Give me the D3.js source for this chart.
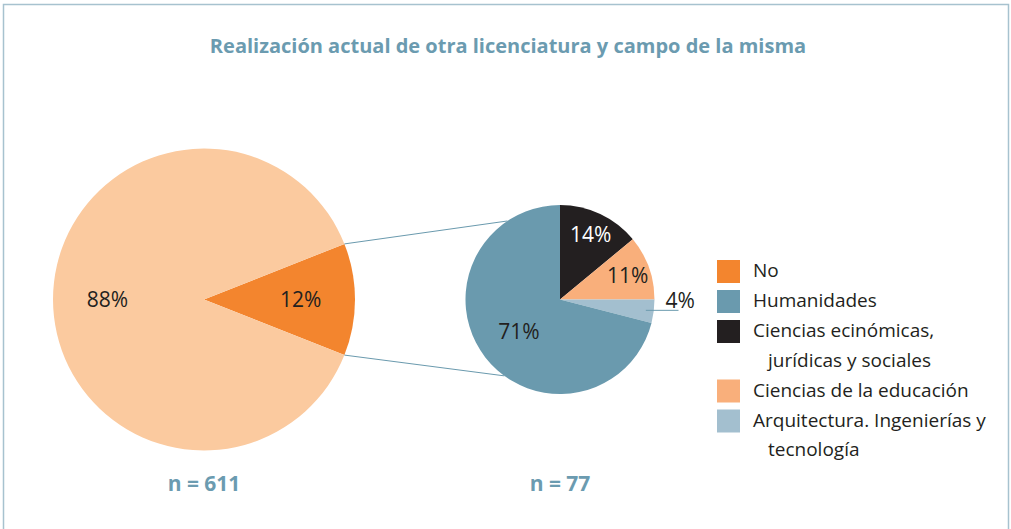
<!doctype html>
<html lang="es">
<head>
<meta charset="utf-8">
<title>Realización actual de otra licenciatura</title>
<style>
  body { margin: 0; background: #fff; }
  svg text { font-family: "Open Sans", sans-serif; }
</style>
</head>
<body>
<script src="https://cdn.jsdelivr.net/npm/d3@7"></script>
<script>

// Data
var mainLabels = ["Sí", "No"];
var mainValues = [88, 12];
var mainN = 611;

var subLabels = ["Ciencias ecinómicas, jurídicas y sociales", "Ciencias de la educación",
                 "Arquitectura. Ingenierías y tecnología", "Humanidades"];
var subValues = [14, 11, 4, 71];
var subN = 77;

var legendLabels = ["No", "Humanidades", "Ciencias ecinómicas,|jurídicas y sociales",
                    "Ciencias de la educación", "Arquitectura. Ingenierías y|tecnología"];

var colors = {
  "Sí": "#fbca9f",
  "No": "#f3852e",
  "Humanidades": "#6a9aae",
  "Ciencias ecinómicas, jurídicas y sociales": "#231f20",
  "Ciencias de la educación": "#f9af7b",
  "Arquitectura. Ingenierías y tecnología": "#a3bfcf"
};
function legendColor(l) { return colors[l.replace("|", " ")]; }

var W = 1011, H = 529;
var svg = d3.select("body").append("svg")
  .attr("width", W)
  .attr("height", H);

// frame
svg.append("path")
  .attr("d", "M3.5," + (H + 2) + "V4.5H1008.5V" + (H + 2))
  .attr("fill", "none")
  .attr("stroke", "#a7c2cf")
  .attr("stroke-width", 1.5);

svg.append("text")
  .attr("x", 508)
  .attr("y", 53)
  .attr("text-anchor", "middle")
  .attr("font-size", "20px")
  .attr("font-weight", "bold")
  .attr("fill", "#6b9bb0")
  .text("Realización actual de otra licenciatura y campo de la misma");

// ---- big pie
var bigC = [204, 299.5], bigR = 151;
var bigPie = d3.pie().sort(null)
  .startAngle(Math.PI / 2 - (mainValues[1] / 100) * Math.PI)   // keep "No" centred on the right
  .endAngle(Math.PI / 2 - (mainValues[1] / 100) * Math.PI + 2 * Math.PI);
// order: No first so it starts at the start angle
var bigData = bigPie([mainValues[1], mainValues[0]]);
var bigNames = [mainLabels[1], mainLabels[0]];
var bigArc = d3.arc().innerRadius(0).outerRadius(bigR);
var bigLab = d3.arc().innerRadius(bigR * 0.64).outerRadius(bigR * 0.64);

var gBig = svg.append("g").attr("transform", "translate(" + bigC + ")");
gBig.selectAll("path")
  .data(bigData)
  .join("path")
  .attr("d", bigArc)
  .attr("fill", function (d, i) { return colors[bigNames[i]]; });

gBig.selectAll("text")
  .data(bigData)
  .join("text")
  .attr("transform", function (d) { return "translate(" + bigLab.centroid(d) + ")"; })
  .attr("dy", "0.36em")
  .attr("text-anchor", "middle")
  .attr("font-size", "21px")
  .attr("fill", "#231f20")
  .text(function (d) { return d.value + "%"; });

// ---- small pie
var smC = [560, 299.5], smR = 94.5;
var smPie = d3.pie().sort(null);
var smData = smPie(subValues);
var smArc = d3.arc().innerRadius(0).outerRadius(smR);

// connector lines from the "No" slice to the small pie
var noSlice = bigData[0];
function pt(c, r, a) { return [c[0] + r * Math.sin(a), c[1] - r * Math.cos(a)]; }
var links = [
  [pt(bigC, bigR, noSlice.startAngle), pt(smC, smR, -0.59)],
  [pt(bigC, bigR, noSlice.endAngle), pt(smC, smR, Math.PI + 0.63)]
];
svg.selectAll(".link")
  .data(links)
  .join("line")
  .attr("class", "link")
  .attr("x1", function (d) { return d[0][0]; })
  .attr("y1", function (d) { return d[0][1]; })
  .attr("x2", function (d) { return d[1][0]; })
  .attr("y2", function (d) { return d[1][1]; })
  .attr("stroke", "#6a9aae")
  .attr("stroke-width", 1);

var gSm = svg.append("g").attr("transform", "translate(" + smC + ")");
gSm.selectAll("path")
  .data(smData)
  .join("path")
  .attr("d", smArc)
  .attr("fill", function (d, i) { return colors[subLabels[i]]; });

// leader for the small 4% slice
var tiny = smData[2];
var tinyMid = (tiny.startAngle + tiny.endAngle) / 2;
var tp = pt([0, 0], smR - 8, tinyMid);
gSm.append("line")
  .attr("x1", tp[0]).attr("y1", tp[1])
  .attr("x2", smR + 24).attr("y2", tp[1])
  .attr("stroke", "#6a9aae")
  .attr("stroke-width", 1);

gSm.selectAll("text")
  .data(smData)
  .join("text")
  .attr("transform", function (d, i) {
    if (i === 2) return "translate(" + (smR + 11) + "," + (tp[1] - 2) + ")";
    var r = d.value > 50 ? smR * 0.55 : smR * 0.76;
    var a = (d.startAngle + d.endAngle) / 2;
    var p = pt([0, 0], r, a);
    return "translate(" + p + ")";
  })
  .attr("dy", function (d, i) { return i === 2 ? 0 : "0.36em"; })
  .attr("text-anchor", function (d, i) { return i === 2 ? "start" : "middle"; })
  .attr("font-size", "21px")
  .attr("fill", function (d, i) { return i === 0 ? "#fff" : "#231f20"; })
  .text(function (d) { return d.value + "%"; });

// n labels
svg.selectAll(".nlab")
  .data([[bigC[0], mainN], [smC[0], subN]])
  .join("text")
  .attr("class", "nlab")
  .attr("x", function (d) { return d[0]; })
  .attr("y", 491)
  .attr("text-anchor", "middle")
  .attr("font-size", "21px")
  .attr("font-weight", "bold")
  .attr("fill", "#6b9bb0")
  .text(function (d) { return "n = " + d[1]; });

// ---- legend
var rowY = 0;
var gLeg = svg.append("g").attr("transform", "translate(717,260)");
legendLabels.forEach(function (l) {
  var lines = l.split("|");
  gLeg.append("rect")
    .attr("x", 0).attr("y", rowY)
    .attr("width", 23).attr("height", 23)
    .attr("fill", legendColor(l));
  lines.forEach(function (s, j) {
    gLeg.append("text")
      .attr("x", j === 0 ? 36 : 51)
      .attr("y", rowY + 17 + j * 29.5)
      .attr("font-size", "19px")
      .attr("fill", "#231f20")
      .text(s);
  });
  rowY += 29.5 * lines.length + 0.5;
});

</script>
</body>
</html>
